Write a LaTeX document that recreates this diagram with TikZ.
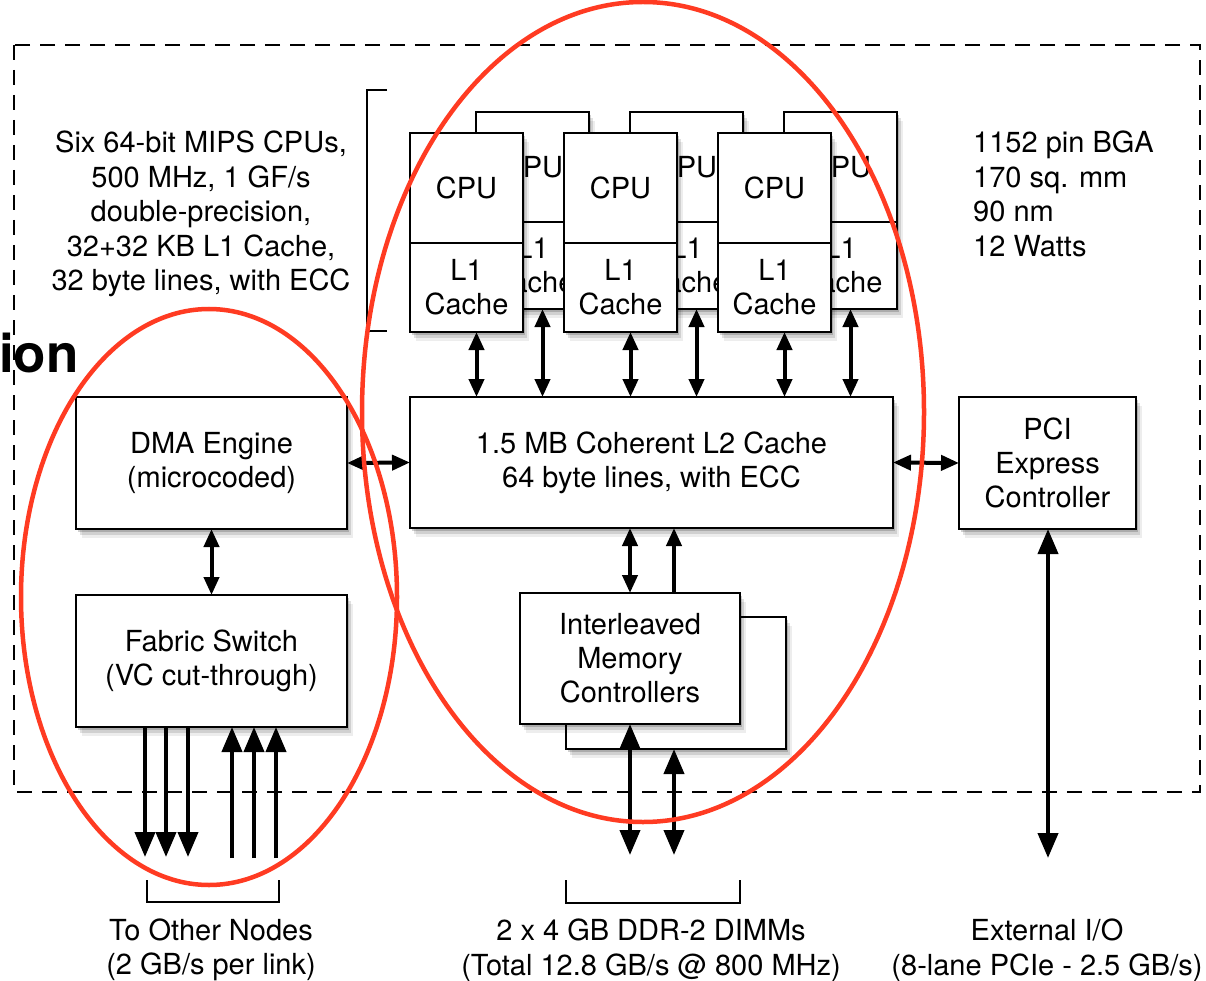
\documentclass[tikz,border=0pt]{standalone}
\usepackage{fontspec}
\setmainfont{TeX Gyre Heros}
\usetikzlibrary{arrows.meta,positioning,calc,shadows}
\definecolor{ringred}{HTML}{FF3B22}
\tikzset{
  % white block with a soft (stacked) drop shadow
  blk/.style   = {rectangle, draw=black, fill=white, line width=1.8pt, align=center,
                  inner sep=0pt, outer sep=0pt, font=\fontsize{29}{34}\selectfont,
                  drop shadow={shadow xshift=2pt, shadow yshift=-3pt, opacity=.18, fill=black},
                  drop shadow={shadow xshift=4pt, shadow yshift=-6pt, opacity=.12, fill=black},
                  drop shadow={shadow xshift=6pt, shadow yshift=-9pt, opacity=.07, fill=black}},
  lnk/.style   = {{Triangle[length=18pt,width=15pt]}-{Triangle[length=18pt,width=15pt]}, line width=4pt},
  biglnk/.style= {{Triangle[length=25pt,width=20pt]}-{Triangle[length=25pt,width=20pt]}, line width=4pt},
  upl/.style   = {-{Triangle[length=18pt,width=15pt]}, line width=4pt},
  offchip/.style = {-{Triangle[length=25pt,width=20pt]}, line width=4pt},
  frame/.style = {line width=1.8pt, dash pattern=on 15pt off 10pt},
  brk/.style   = {line width=1.6pt},
  lbl/.style   = {font=\fontsize{29}{34.5}\selectfont, align=center, inner sep=0pt},
  ring/.style  = {draw=ringred, line width=4.5pt},
}

\begin{document}
\begin{tikzpicture}[x=1pt,y=-1pt]
\useasboundingbox (0,0) rectangle (1206,981);
\draw[frame] (14,45) rectangle (1200,792);

% cores at the back
\node[blk, minimum width=113pt, minimum height=110pt, anchor=north west] (cpuB1) at (476,112) {CPU};
\node[blk, minimum width=113pt, minimum height=87pt, anchor=north] (l1B1) at (cpuB1.south) {L1\\Cache};
\node[blk, minimum width=113pt, minimum height=110pt, anchor=north west] (cpuB2) at (630,112) {CPU};
\node[blk, minimum width=113pt, minimum height=87pt, anchor=north] (l1B2) at (cpuB2.south) {L1\\Cache};
\node[blk, minimum width=113pt, minimum height=110pt, anchor=north west] (cpuB3) at (784,112) {CPU};
\node[blk, minimum width=113pt, minimum height=87pt, anchor=north] (l1B3) at (cpuB3.south) {L1\\Cache};
% cores in front
\node[blk, minimum width=113pt, minimum height=110pt, anchor=north west] (cpuF1) at (410,133) {CPU};
\node[blk, minimum width=113pt, minimum height=89pt, anchor=north] (l1F1) at (cpuF1.south) {L1\\Cache};
\node[blk, minimum width=113pt, minimum height=110pt, anchor=north west] (cpuF2) at (564,133) {CPU};
\node[blk, minimum width=113pt, minimum height=89pt, anchor=north] (l1F2) at (cpuF2.south) {L1\\Cache};
\node[blk, minimum width=113pt, minimum height=110pt, anchor=north west] (cpuF3) at (718,133) {CPU};
\node[blk, minimum width=113pt, minimum height=89pt, anchor=north] (l1F3) at (cpuF3.south) {L1\\Cache};

\node[blk, minimum width=483pt, minimum height=131pt, anchor=north west] (l2) at (410,397)
     {1.5 MB Coherent L2 Cache\\64 byte lines, with ECC};
\node[blk, minimum width=271pt, minimum height=132pt, anchor=north west] (dma) at (76,397)
     {DMA Engine\\(microcoded)};
\node[blk, minimum width=271pt, minimum height=132pt, anchor=north west] (fab) at (76,595)
     {Fabric Switch\\(VC cut-through)};
\node[blk, minimum width=177pt, minimum height=132pt, anchor=north west] (pci) at (959,397)
     {PCI\\Express\\Controller};
\node[blk, minimum width=220pt, minimum height=132pt, anchor=north west] (mcB) at (566,617) {};
\node[blk, minimum width=220pt, minimum height=131pt, anchor=north west] (mcF) at (520,593)
     {Interleaved\\Memory\\Controllers};

% cores to L2
\draw[lnk] ([xshift=10pt]l1F1.south) -- ([xshift=10pt]l1F1.south |- l2.north);
\draw[lnk] ([xshift=10pt]l1F2.south) -- ([xshift=10pt]l1F2.south |- l2.north);
\draw[lnk] ([xshift=10pt]l1F3.south) -- ([xshift=10pt]l1F3.south |- l2.north);
\draw[lnk] ([xshift=10pt]l1B1.south) -- ([xshift=10pt]l1B1.south |- l2.north);
\draw[lnk] ([xshift=10pt]l1B2.south) -- ([xshift=10pt]l1B2.south |- l2.north);
\draw[lnk] ([xshift=10pt]l1B3.south) -- ([xshift=10pt]l1B3.south |- l2.north);

\draw[lnk] (dma.east) -- (l2.west);
\draw[lnk] (l2.east) -- (pci.west);
\draw[lnk] (dma.south) -- (fab.north);
\draw[lnk] (mcF.north) -- (mcF.north |- l2.south);
\draw[upl] ([xshift=44pt]mcF.north) -- ([xshift=44pt]mcF.north |- l2.south);

% links leaving the chip
\coordinate (dn1) at (145,857);
\coordinate (dn2) at (166,857);
\coordinate (dn3) at (188,857);
\coordinate (up1) at (232,858);
\coordinate (up2) at (254,858);
\coordinate (up3) at (276,858);
\draw[offchip] (fab.south -| dn1) -- (dn1);
\draw[offchip] (fab.south -| dn2) -- (dn2);
\draw[offchip] (fab.south -| dn3) -- (dn3);
\draw[offchip] (up1) -- (fab.south -| up1);
\draw[offchip] (up2) -- (fab.south -| up2);
\draw[offchip] (up3) -- (fab.south -| up3);

\coordinate (dimA) at (630,855);
\coordinate (dimB) at (674,855);
\coordinate (ext) at (1048,858);
\draw[biglnk] (mcF.south -| dimA) -- (dimA);
\draw[biglnk] (mcB.south -| dimB) -- (dimB);
\draw[biglnk] (pci.south -| ext) -- (ext);

% brackets
\draw[brk] (387,90) -- (367,90) -- (367,331) -- (387,331);
\draw[brk] (147,880) -- (147,902) -- (279,902) -- (279,880);
\draw[brk] (566,880) -- (566,903) -- (740,903) -- (740,880);

% annotations
\node[lbl] (cpuinfo) at (201,214) {Six 64-bit MIPS CPUs,\\500 MHz, 1 GF/s\\double-precision,\\32+32 KB L1 Cache,\\32 byte lines, with ECC};
\node[lbl, align=left, anchor=west] (chipinfo) at (973,194) {1152 pin BGA\\170 sq. mm\\90 nm\\12 Watts};
\node[lbl] (netlbl) at (211,950) {To Other Nodes\\(2 GB/s per link)};
\node[lbl] (memlbl) at (651,950) {2 x 4 GB DDR-2 DIMMs\\(Total 12.8 GB/s @ 800 MHz)};
\node[lbl] (iolbl) at (1047,950) {External I/O\\(8-lane PCIe - 2.5 GB/s)};
\node[anchor=base west, inner sep=0pt, font=\fontsize{53}{53}\selectfont\bfseries] (title) at (-1,372) {ion};

% highlight rings
\draw[ring] (209,597) ellipse [x radius=188, y radius=288];
\draw[ring] (643,412) ellipse [x radius=281, y radius=410];
\end{tikzpicture}
\end{document}
